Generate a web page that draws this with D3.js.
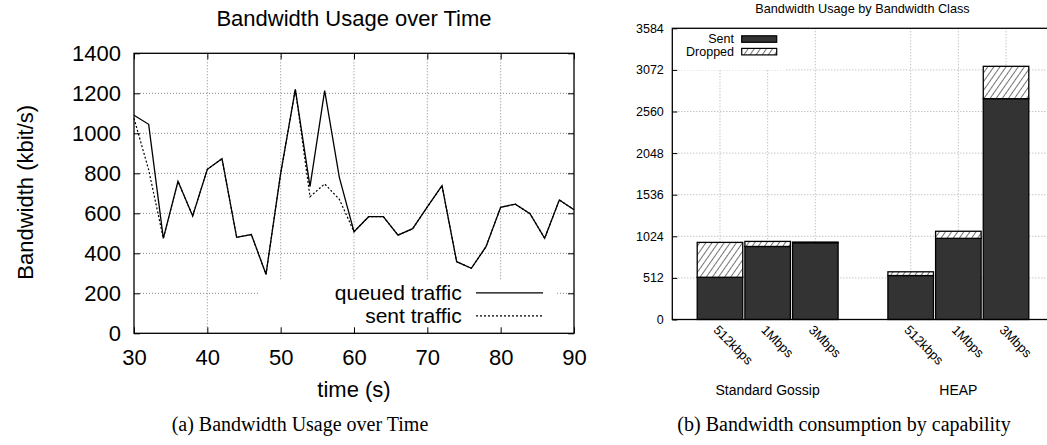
<!DOCTYPE html>
<html>
<head>
<meta charset="utf-8">
<script src="https://cdn.jsdelivr.net/npm/d3@7"></script>
<style>
  body { margin: 0; background: #fff; }
  svg { display: block; font-family: "Liberation Sans", Arial, sans-serif; }
</style>
</head>
<body>
<div id="chart"></div>
<script>
// ---- left panel: bandwidth over time ----
const times = [30, 32, 34, 36, 38, 40, 42, 44, 46, 48, 50, 52, 54, 56, 58, 60,
               62, 64, 66, 68, 70, 72, 74, 76, 78, 80, 82, 84, 86, 88, 90];
const queued = [1090, 1045, 475, 760, 587, 820, 873, 480, 494, 295, 800, 1220, 733, 1213, 780, 508,
                583, 583, 491, 523, 632, 738, 358, 325, 433, 630, 646, 598, 475, 667, 618];
const sentTraffic = [1075, 817, 475, 760, 587, 820, 873, 480, 494, 295, 800, 1220, 683, 747, 670, 508,
                     583, 583, 491, 523, 632, 738, 358, 325, 433, 630, 646, 598, 475, 667, 618];
const timeTicks = [30, 40, 50, 60, 70, 80, 90];
const bwTicks = [0, 200, 400, 600, 800, 1000, 1200, 1400];

// ---- right panel: bandwidth by class ----
const groups = ["Standard Gossip", "HEAP"];
const classes = ["512kbps", "1Mbps", "3Mbps"];
const sentBars = [[520, 899, 945], [541, 999, 2718]];
const droppedBars = [[429, 62, 8], [46, 87, 398]];
const classTicks = [0, 512, 1024, 1536, 2048, 2560, 3072, 3584];

const svg = d3.select("#chart")
  .append("svg")
    .attr("width", 1047)
    .attr("height", 445);

// hatch for dropped
svg.append("defs").append("pattern")
    .attr("id", "hatch")
    .attr("patternUnits", "userSpaceOnUse")
    .attr("width", 5)
    .attr("height", 5)
    .attr("patternTransform", "rotate(35)")
  .call(p => {
    p.append("rect").attr("width", 5).attr("height", 5).attr("fill", "#fff");
    p.append("line").attr("x1", 0).attr("y1", 0).attr("x2", 0).attr("y2", 5)
      .attr("stroke", "#000").attr("stroke-width", 1.1);
  });

/* ================= left chart ================= */
const m1 = {left: 134, top: 53.3},
    w1 = 440, h1 = 280;

const g1 = svg.append("g").attr("transform", `translate(${m1.left},${m1.top})`);

const x = d3.scaleLinear().domain([30, 90]).range([0, w1]);
const y = d3.scaleLinear().domain([0, 1400]).range([h1, 0]);

// grid
g1.selectAll(".vgrid")
  .data(timeTicks.slice(1, -1))
  .join("line")
    .attr("x1", d => x(d)).attr("x2", d => x(d))
    .attr("y1", 0).attr("y2", h1)
    .attr("stroke", "#888").attr("stroke-dasharray", "1,2");
g1.selectAll(".hgrid")
  .data(bwTicks.slice(1, -1))
  .join("line")
    .attr("x1", 0).attr("x2", w1)
    .attr("y1", d => y(d)).attr("y2", d => y(d))
    .attr("stroke", "#888").attr("stroke-dasharray", "1,2");

// opaque key box
g1.append("rect")
  .attr("x", 126).attr("y", 227)
  .attr("width", 296).attr("height", 53)
  .attr("fill", "#fff");

// axes, ticks point inward
const axL = g1.append("g").call(d3.axisLeft(y).tickValues(bwTicks).tickFormat(d3.format("d"))
  .tickSizeInner(-6).tickSizeOuter(0).tickPadding(13));
const axB = g1.append("g").attr("transform", `translate(0,${h1})`)
  .call(d3.axisBottom(x).tickValues(timeTicks).tickFormat(d3.format("d"))
    .tickSizeInner(-6).tickSizeOuter(0).tickPadding(16));
g1.append("g").call(d3.axisTop(x).tickValues(timeTicks).tickSizeInner(-6).tickSizeOuter(0).tickFormat(""));
g1.append("g").attr("transform", `translate(${w1},0)`)
  .call(d3.axisRight(y).tickValues(bwTicks).tickSizeInner(-6).tickSizeOuter(0).tickFormat(""));
g1.selectAll(".domain").remove();
g1.selectAll(".tick line").attr("stroke", "#000");
[axL, axB].forEach(a => a.selectAll("text")
  .style("font-size", "22px")
  .style("font-family", "Liberation Sans, Arial, sans-serif")
  .attr("fill", "#000"));

g1.append("rect")
  .attr("width", w1).attr("height", h1)
  .attr("fill", "none").attr("stroke", "#000").attr("stroke-width", 1.3);

const line = d3.line().x((d, i) => x(times[i])).y(d => y(d));

g1.append("path")
  .datum(queued)
  .attr("d", line)
  .attr("fill", "none").attr("stroke", "#000").attr("stroke-width", 1.3);
g1.append("path")
  .datum(sentTraffic)
  .attr("d", line)
  .attr("fill", "none").attr("stroke", "#000").attr("stroke-width", 1.2)
  .attr("stroke-dasharray", "2,2");

// key
const keyRows = [{name: "queued traffic", dash: null}, {name: "sent traffic", dash: "2,2"}];
const key = g1.selectAll(".key")
  .data(keyRows)
  .join("g")
    .attr("transform", (d, i) => `translate(0,${239.5 + i * 23})`);
key.append("text")
  .attr("x", 327.7).attr("dy", "0.35em")
  .attr("text-anchor", "end")
  .style("font-size", "21px")
  .text(d => d.name);
key.append("line")
  .attr("x1", 342).attr("x2", 409)
  .attr("stroke", "#000").attr("stroke-width", 1.2)
  .attr("stroke-dasharray", d => d.dash);

g1.append("text")
  .attr("x", w1 / 2).attr("y", -27)
  .attr("text-anchor", "middle")
  .style("font-size", "22px")
  .text("Bandwidth Usage over Time");

g1.append("text")
  .attr("x", w1 / 2).attr("y", h1 + 64)
  .attr("text-anchor", "middle")
  .style("font-size", "22px")
  .text("time (s)");

g1.append("text")
  .attr("transform", `translate(-109,${h1 / 2 - 1}) rotate(-90)`)
  .attr("text-anchor", "middle")
  .attr("dy", "0.35em")
  .style("font-size", "22px")
  .text("Bandwidth (kbit/s)");

/* ================= right chart ================= */
const m2 = {left: 672.3, top: 28.3},
    w2 = 381.4, h2 = 291.2;

const g2 = svg.append("g").attr("transform", `translate(${m2.left},${m2.top})`);

// slot positions: 3 bars per group with one empty slot between groups
const xb = d3.scaleLinear().domain([-1, 7]).range([0, w2]);
const yb = d3.scaleLinear().domain([0, 3584]).range([h2, 0]);
const slot = (gi, ci) => gi * 4 + ci;
const barW = xb(0.955) - xb(0);

const bars = [];
groups.forEach((gname, gi) => classes.forEach((cname, ci) => {
  bars.push({group: gname, cls: cname, pos: slot(gi, ci), sent: sentBars[gi][ci], dropped: droppedBars[gi][ci]});
}));

g2.selectAll(".hgrid")
  .data(classTicks.slice(1, -1))
  .join("line")
    .attr("x1", 0).attr("x2", w2)
    .attr("y1", d => yb(d)).attr("y2", d => yb(d))
    .attr("stroke", "#aaa").attr("stroke-dasharray", "1,2");
g2.selectAll(".vgrid")
  .data(bars)
  .join("line")
    .attr("x1", d => xb(d.pos)).attr("x2", d => xb(d.pos))
    .attr("y1", 0).attr("y2", h2)
    .attr("stroke", "#aaa").attr("stroke-dasharray", "1,2");

// opaque key box
g2.append("rect")
  .attr("x", 0).attr("y", 0)
  .attr("width", 112.7).attr("height", 41.7)
  .attr("fill", "#fff");

g2.selectAll(".sent")
  .data(bars)
  .join("rect")
    .attr("x", d => xb(d.pos) - barW / 2)
    .attr("y", d => yb(d.sent))
    .attr("width", barW)
    .attr("height", d => yb(0) - yb(d.sent))
    .attr("fill", "#333").attr("stroke", "#000").attr("stroke-width", 1.3);
g2.selectAll(".dropped")
  .data(bars)
  .join("rect")
    .attr("x", d => xb(d.pos) - barW / 2)
    .attr("y", d => yb(d.sent + d.dropped))
    .attr("width", barW)
    .attr("height", d => yb(d.sent) - yb(d.sent + d.dropped))
    .attr("fill", "url(#hatch)").attr("stroke", "#000").attr("stroke-width", 1.3);

const axY2 = g2.append("g")
  .call(d3.axisLeft(yb).tickValues(classTicks).tickFormat(d3.format("d"))
    .tickSizeInner(-5).tickSizeOuter(0).tickPadding(8.5));
axY2.select(".domain").remove();
axY2.selectAll(".tick line").attr("stroke", "#000");
axY2.selectAll("text")
  .style("font-size", "12.5px")
  .style("font-family", "Liberation Sans, Arial, sans-serif")
  .attr("fill", "#000");

g2.append("rect")
  .attr("width", w2).attr("height", h2)
  .attr("fill", "none").attr("stroke", "#000").attr("stroke-width", 1.3);

// rotated class labels
g2.selectAll(".cls")
  .data(bars)
  .join("text")
    .attr("transform", d => `translate(${xb(d.pos) - 4},${h2 + 8}) rotate(45)`)
    .attr("dy", "0.35em")
    .style("font-size", "13px")
    .text(d => d.cls);

g2.selectAll(".grp")
  .data(groups)
  .join("text")
    .attr("x", (d, i) => xb(slot(i, 1)))
    .attr("y", h2 + 76)
    .attr("text-anchor", "middle")
    .style("font-size", "14px")
    .text(d => d);

g2.append("text")
  .attr("x", (xb(-1) + xb(7)) / 2 - 0.5).attr("y", -15.5)
  .attr("text-anchor", "middle")
  .style("font-size", "12.7px")
  .text("Bandwidth Usage by Bandwidth Class");

// key
const key2 = g2.selectAll(".key2")
  .data([{name: "Sent", fill: "#333"}, {name: "Dropped", fill: "url(#hatch)"}])
  .join("g")
    .attr("transform", (d, i) => `translate(0,${10.7 + i * 12.6})`);
key2.append("text")
  .attr("x", 61.7).attr("dy", "0.35em")
  .attr("text-anchor", "end")
  .style("font-size", "12.5px")
  .text(d => d.name);
key2.append("rect")
  .attr("x", 69.4).attr("y", -3.2)
  .attr("width", 35).attr("height", 6.5)
  .attr("fill", d => d.fill).attr("stroke", "#000").attr("stroke-width", 1.2);

// captions
svg.selectAll(".caption")
  .data([{x: 300, t: "(a) Bandwidth Usage over Time"}, {x: 844, t: "(b) Bandwidth consumption by capability"}])
  .join("text")
    .attr("x", d => d.x).attr("y", 431)
    .attr("text-anchor", "middle")
    .style("font-family", "Liberation Serif, Times New Roman, serif")
    .style("font-size", "20px")
    .text(d => d.t);
</script>
</body>
</html>
